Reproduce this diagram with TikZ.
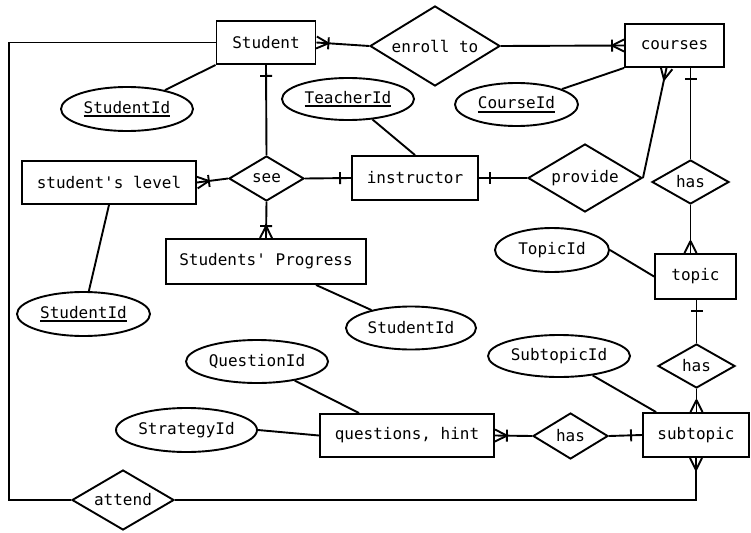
\documentclass[tikz,border=0pt]{standalone}
\usepackage{fontspec}
\setmonofont{DejaVu Sans Mono}
\usepackage{tikz}
\usetikzlibrary{
  shapes.geometric,
  decorations.markings
}
% chave primaria sublinhada
\newcommand{\pk}[1]{\setbox0=\hbox{#1}\rlap{\rule[-4pt]{\wd0}{1.8pt}}\box0}

\tikzset{
  entity/.style={draw, rectangle, inner sep=0pt},
  rel/.style={draw, diamond, shape aspect=1.7, inner sep=0pt},
  attr/.style={draw, ellipse, inner sep=0pt},
  one/.style={postaction={decorate, decoration={markings,
      mark=at position -11pt with {\draw (0,-6pt) -- (0,6pt);}}}},
  many/.style={postaction={decorate, decoration={markings,
      mark=at position 1 with {\draw (-12pt,0) -- (0,6pt) (-12pt,0) -- (0,-6pt);}}}},
  onemany/.style={postaction={decorate, decoration={markings,
      mark=at position -12pt with {\draw (0,-6pt) -- (0,6pt);},
      mark=at position 1 with {\draw (-12pt,0) -- (0,6pt) (-12pt,0) -- (0,-6pt);}}}}
}

\begin{document}
\begin{tikzpicture}[
        x=1pt, y=-1pt,
        line width=1.9pt,
        every node/.style={font=\ttfamily\fontsize{16}{19}\selectfont}
    ]
        \useasboundingbox (0,0) rectangle (751,532);
        % Entidades
        \node[entity, minimum width=99pt, minimum height=43pt] (student) at (266,42.5) {Student};
        \node[entity, minimum width=99pt, minimum height=43pt] (courses) at (674.5,45.5) {courses};
        \node[entity, minimum width=174pt, minimum height=43pt] (level) at (109,182.5) {student's level};
        \node[entity, minimum width=126pt, minimum height=44pt] (instructor) at (415,178) {instructor};
        \node[entity, minimum width=200pt, minimum height=45pt] (progress) at (266,261.5) {Students' Progress};
        \node[entity, minimum width=81pt, minimum height=45pt] (topic) at (695.5,276.5) {topic};
        \node[entity, minimum width=106pt, minimum height=44pt] (subtopic) at (696,435) {subtopic};
        \node[entity, minimum width=174pt, minimum height=43pt] (questions) at (407,435.5) {questions, hint};
        % Relacionamentos
        \node[rel, minimum width=130pt, minimum height=80pt] (enroll) at (435,46) {enroll to};
        \node[rel, minimum width=75pt, minimum height=45pt] (see) at (266.5,178.5) {see};
        \node[rel, minimum width=114pt, minimum height=68pt] (provide) at (585,178) {provide};
        \node[rel, minimum width=77pt, minimum height=44pt] (hasA) at (690.5,182) {has};
        \node[rel, minimum width=77pt, minimum height=44pt] (hasB) at (696.5,366) {has};
        \node[rel, minimum width=75pt, minimum height=46pt] (hasC) at (570.5,436) {has};
        \node[rel, minimum width=102pt, minimum height=60pt] (attend) at (123,500) {attend};
        % Atributos
        \node[attr, minimum width=132pt, minimum height=44pt] (sidA) at (127,109) {\pk{StudentId}};
        \node[attr, minimum width=133pt, minimum height=44pt] (sidB) at (83.5,314) {\pk{StudentId}};
        \node[attr, minimum width=130pt, minimum height=43pt] (sidC) at (411,328) {StudentId};
        \node[attr, minimum width=132pt, minimum height=42pt] (teacherid) at (348,99) {\pk{TeacherId}};
        \node[attr, minimum width=123pt, minimum height=43pt] (courseid) at (516.5,104.5) {\pk{CourseId}};
        \node[attr, minimum width=114pt, minimum height=44pt] (topicid) at (552,250) {TopicId};
        \node[attr, minimum width=142pt, minimum height=42pt] (subtopicid) at (559,356) {SubtopicId};
        \node[attr, minimum width=142pt, minimum height=43pt] (questionid) at (257,361.5) {QuestionId};
        \node[attr, minimum width=141pt, minimum height=44pt] (strategyid) at (186.5,430) {StrategyId};
        \coordinate (loopL) at (9,0);
        % Ligacoes dos atributos
        \draw (student.south west) -- (sidA);
        \draw (level.south) -- (sidB);
        \draw ([xshift=50pt]progress.south) -- (sidC);
        \draw (teacherid) -- (instructor.north);
        \draw (courses.south west) -- (courseid);
        \draw (topicid.east) -- (topic.west);
        \draw (subtopicid) -- ([xshift=14pt]subtopic.north west);
        \draw (questionid) -- ([xshift=40pt]questions.north west);
        \draw (strategyid.east) -- (questions.west);
        % Cardinalidades
        \draw[onemany] (enroll.west) -- (student.east);
        \draw[onemany] (enroll.east) -- (courses.west);
        \draw[one] (see.north) -- (student.south);
        \draw[onemany] (see.west) -- (level.east);
        \draw[one] (see.east) -- (instructor.west);
        \draw[onemany] (see.south) -- (progress.north);
        \draw[one] (provide.west) -- (instructor.east);
        \draw[many] (provide.east) -- ([xshift=-8pt]courses.south);
        \draw[one] (hasA.north) -- (hasA.north |- courses.south);
        \draw[many] (hasA.south) -- (hasA.south |- topic.north);
        \draw[one] (hasB.north) -- (hasB.north |- topic.south);
        \draw[many] (hasB.south) -- (hasB.south |- subtopic.north);
        \draw[onemany] (hasC.west) -- (questions.east);
        \draw[one] (hasC.east) -- (subtopic.west);
        % Volta externa
        \draw (student.west) -- (student.west -| loopL) |- (attend.west);
        \draw[many] (attend.east) -| (subtopic.south);
    \end{tikzpicture}
\end{document}
